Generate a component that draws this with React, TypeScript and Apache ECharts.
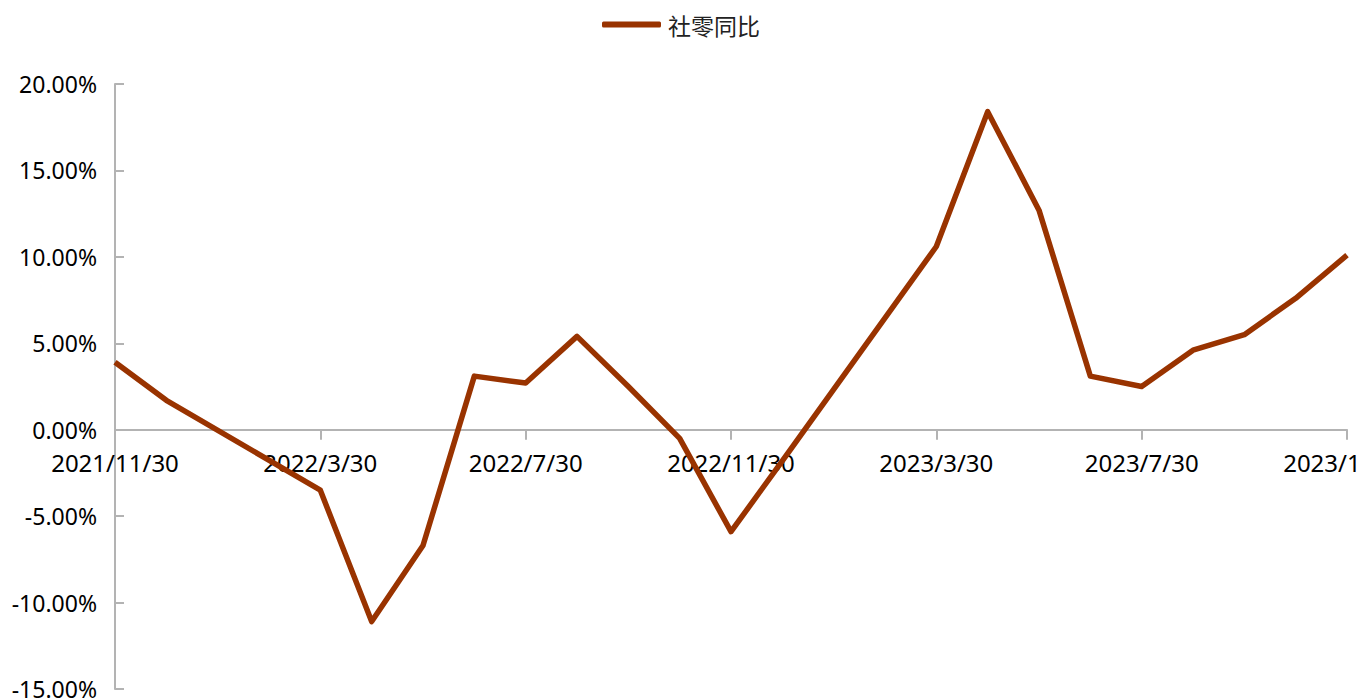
import React, { useEffect, useRef } from "react";
import * as echarts from "echarts";

const seriesName = "社零同比";

const categories = [
  "2021/11/30", "2021/12/30", "2022/1/30", "2022/2/30", "2022/3/30", "2022/4/30",
  "2022/5/30", "2022/6/30", "2022/7/30", "2022/8/30", "2022/9/30", "2022/10/30",
  "2022/11/30", "2022/12/30", "2023/1/30", "2023/2/30", "2023/3/30", "2023/4/30",
  "2023/5/30", "2023/6/30", "2023/7/30", "2023/8/30", "2023/9/30", "2023/10/30",
  "2023/11/30",
];

// 社零同比 (%), Jan/Feb are not published separately (connected across)
const values: (number | null)[] = [
  3.9, 1.7, null, null, -3.5, -11.1,
  -6.7, 3.1, 2.7, 5.4, 2.5, -0.5,
  -5.9, -1.8, null, null, 10.6, 18.4,
  12.7, 3.1, 2.5, 4.6, 5.5, 7.6,
  10.1,
];

const yMin = -15;
const yMax = 20;
const yStep = 5;

const LINE_COLOR = "#993300";
const AXIS_COLOR = "#b3b3b3";
const LABEL_FONT = "'Noto Sans', 'Open Sans', sans-serif";

const GRID = { left: 115, right: 15, top: 84, bottom: 10 };
const HEIGHT = 699;

export default function App() {
  const ref = useRef<HTMLDivElement>(null);

  useEffect(() => {
    if (!ref.current) return;
    const chart = echarts.init(ref.current, undefined, { renderer: "svg" });
    const gridHeight = HEIGHT - GRID.top - GRID.bottom;
    const zeroOffset = -(gridHeight * (0 - yMin)) / (yMax - yMin);
    chart.setOption({
      animation: false,
      backgroundColor: "#ffffff",
      legend: {
        show: true,
        left: "center",
        top: 8,
        icon: "roundRect",
        itemWidth: 59,
        itemHeight: 6,
        itemGap: 10,
        itemStyle: { color: LINE_COLOR },
        textStyle: {
          fontFamily: "'Noto Sans CJK SC', sans-serif",
          fontSize: 23,
          color: "#222222",
          padding: [0, 0, 0, 2],
        },
        data: [seriesName],
      },
      grid: { ...GRID, containLabel: false, outerBoundsMode: "none" },
      xAxis: {
        type: "category",
        data: categories,
        boundaryGap: false,
        offset: zeroOffset,
        axisLine: { show: true, onZero: false, lineStyle: { color: AXIS_COLOR, width: 2 } },
        axisTick: {
          show: true,
          inside: false,
          length: 10,
          interval: 3,
          lineStyle: { color: AXIS_COLOR, width: 2 },
        },
        axisLabel: {
          interval: 3,
          showMinLabel: true,
          showMaxLabel: true,
          hideOverlap: false,
          margin: 21,
          fontFamily: LABEL_FONT,
          fontSize: 24,
          color: "#000000",
        },
        splitLine: { show: false },
      },
      yAxis: {
        type: "value",
        min: yMin,
        max: yMax,
        interval: yStep,
        axisLine: { show: true, lineStyle: { color: AXIS_COLOR, width: 2 } },
        axisTick: {
          show: true,
          inside: true,
          length: 9,
          lineStyle: { color: AXIS_COLOR, width: 2 },
        },
        axisLabel: {
          margin: 18,
          fontFamily: LABEL_FONT,
          fontSize: 23,
          color: "#000000",
          formatter: (v: number) => v.toFixed(2) + "%",
        },
        splitLine: { show: false },
      },
      series: [
        {
          name: seriesName,
          type: "line",
          data: values,
          connectNulls: true,
          symbol: "none",
          lineStyle: { color: LINE_COLOR, width: 5.5, join: "round" },
          itemStyle: { color: LINE_COLOR },
        },
      ],
    });
    return () => chart.dispose();
  }, []);

  return (
    <div
      ref={ref}
      style={{ position: "fixed", left: 0, top: 0, width: 1362, height: HEIGHT, background: "#fff" }}
    />
  );
}
